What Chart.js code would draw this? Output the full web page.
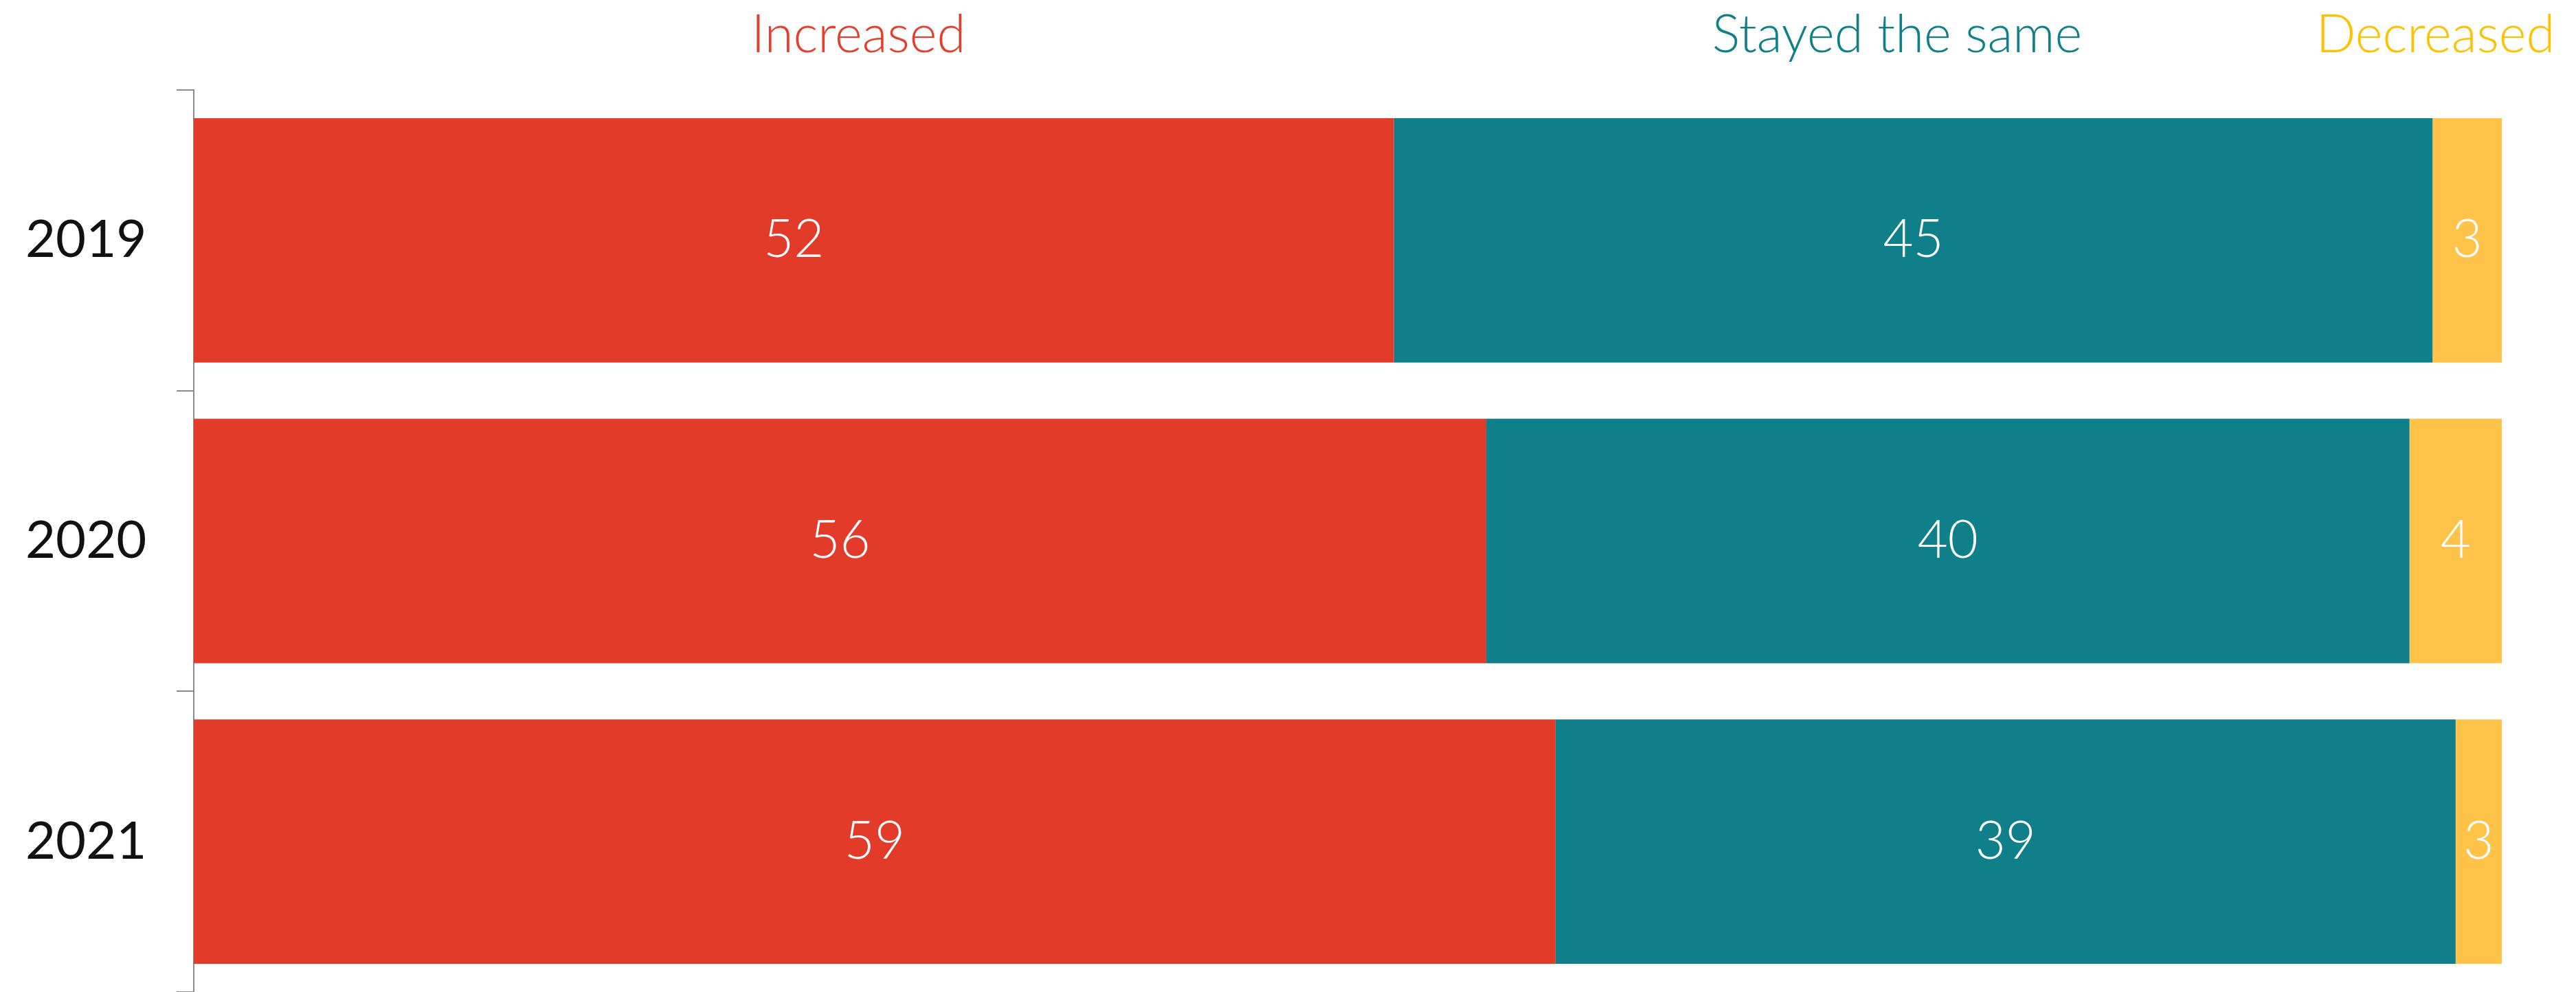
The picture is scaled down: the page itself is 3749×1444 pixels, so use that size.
<!DOCTYPE html>
<html>
<head>
<meta charset="utf-8">
<script src="https://cdn.jsdelivr.net/npm/chart.js@4/dist/chart.umd.min.js"></script>
<style>
  html, body { margin: 0; padding: 0; background: #ffffff; }
  #wrap { width: 3749px; height: 1444px; }
</style>
</head>
<body>
<div id="wrap"><canvas id="c" width="3749" height="1444"></canvas></div>
<script>
// ---- Data ----
const categories = ['2019', '2020', '2021'];
const seriesNames = ['Increased', 'Stayed the same', 'Decreased'];
const increased = [52, 56, 59];
const stayedSame = [45, 40, 39];
const decreased = [3, 4, 2];
// Labels exactly as printed on the bars
const increasedLabels = ['52', '56', '59'];
const stayedSameLabels = ['45', '40', '39'];
const decreasedLabels = ['3', '4', '3'];

// ---- Styles ----
const FONT = 'Lato, "Open Sans", sans-serif';
const barColors = ['#E33B2A', '#0F7F8A', '#FFC34A'];
const headerColors = ['#E53E2C', '#0F7F8A', '#FFC000'];
const valueLabelSets = [increasedLabels, stayedSameLabels, decreasedLabels];

const barLabelsPlugin = {
  id: 'barLabels',
  afterDatasetsDraw(chart) {
    const ctx = chart.ctx;
    ctx.save();
    ctx.font = '300 76px ' + FONT;
    ctx.fillStyle = '#ffffff';
    ctx.textAlign = 'center';
    ctx.textBaseline = 'middle';
    chart.data.datasets.forEach((ds, di) => {
      const meta = chart.getDatasetMeta(di);
      meta.data.forEach((el, i) => {
        const p = el.getProps(['x', 'y', 'base'], true);
        const cx = (p.x + p.base) / 2;
        ctx.fillText(valueLabelSets[di][i], cx, p.y);
      });
    });
    ctx.restore();
  }
};

// Header legend: positions given in x-scale units
const headerPositions = [
  { v: 28.8, align: 'center' },
  { v: 73.8, align: 'center' },
  { v: 102.3, align: 'right' }
];
const headerPlugin = {
  id: 'headerLegend',
  afterDraw(chart) {
    const ctx = chart.ctx;
    const xs = chart.scales.x;
    ctx.save();
    ctx.font = '300 76px ' + FONT;
    ctx.textBaseline = 'alphabetic';
    seriesNames.forEach((name, i) => {
      ctx.fillStyle = headerColors[i];
      ctx.textAlign = headerPositions[i].align;
      ctx.fillText(name, xs.getPixelForValue(headerPositions[i].v), 76);
    });
    ctx.restore();
  }
};

const datasets = [increased, stayedSame, decreased].map((d, i) => ({
  label: seriesNames[i],
  data: d,
  backgroundColor: barColors[i],
  borderWidth: 0,
  categoryPercentage: 1.0,
  barPercentage: 0.813
}));

new Chart(document.getElementById('c'), {
  type: 'bar',
  data: { labels: categories, datasets },
  options: {
    indexAxis: 'y',
    responsive: false,
    maintainAspectRatio: false,
    devicePixelRatio: 1,
    animation: false,
    layout: { padding: { top: 131, right: 108, left: 37, bottom: 0 } },
    plugins: { legend: { display: false }, tooltip: { enabled: false } },
    scales: {
      x: { stacked: true, min: 0, max: 100, display: false },
      y: {
        stacked: true,
        offset: true,
        afterFit(scale) {
          scale.width = 245;
          scale.paddingTop = 0;
          scale.paddingBottom = 0;
        },
        grid: {
          display: true,
          drawOnChartArea: false,
          offset: true,
          tickLength: 25,
          color: '#8c8c8c',
          lineWidth: 2
        },
        border: { display: true, color: '#8c8c8c', width: 2 },
        ticks: {
          crossAlign: 'far',
          color: '#111111',
          font: { family: FONT, size: 76, weight: '400' }
        }
      }
    }
  },
  plugins: [barLabelsPlugin, headerPlugin]
});
</script>
</body>
</html>
